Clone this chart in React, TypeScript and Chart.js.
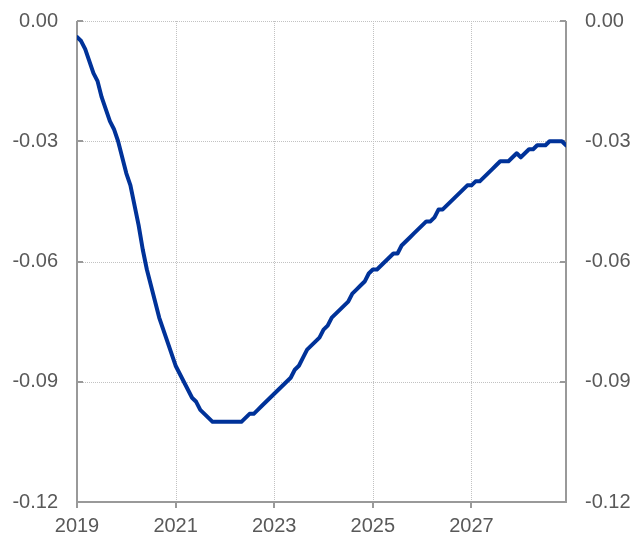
import React, { useEffect, useRef } from "react";
import { Chart, registerables } from "chart.js";

Chart.register(...registerables);

// ---- data ----
const startYear = 2019;
// monthly values, Jan 2019 .. Dec 2028
const values: number[] = [
  -0.004, -0.005, -0.007, -0.010, -0.013, -0.015, -0.019, -0.022, -0.025, -0.027, -0.030, -0.034,
  -0.038, -0.041, -0.046, -0.051, -0.057, -0.062, -0.066, -0.070, -0.074, -0.077, -0.080, -0.083,
  -0.086, -0.088, -0.090, -0.092, -0.094, -0.095, -0.097, -0.098, -0.099, -0.100, -0.100, -0.100,
  -0.100, -0.100, -0.100, -0.100, -0.100, -0.099, -0.098, -0.098, -0.097, -0.096, -0.095, -0.094,
  -0.093, -0.092, -0.091, -0.090, -0.089, -0.087, -0.086, -0.084, -0.082, -0.081, -0.080, -0.079,
  -0.077, -0.076, -0.074, -0.073, -0.072, -0.071, -0.070, -0.068, -0.067, -0.066, -0.065, -0.063,
  -0.062, -0.062, -0.061, -0.060, -0.059, -0.058, -0.058, -0.056, -0.055, -0.054, -0.053, -0.052,
  -0.051, -0.050, -0.050, -0.049, -0.047, -0.047, -0.046, -0.045, -0.044, -0.043, -0.042, -0.041,
  -0.041, -0.040, -0.040, -0.039, -0.038, -0.037, -0.036, -0.035, -0.035, -0.035, -0.034, -0.033,
  -0.034, -0.033, -0.032, -0.032, -0.031, -0.031, -0.031, -0.030, -0.030, -0.030, -0.030, -0.031,
];
const xTicks: number[] = [2019, 2021, 2023, 2025, 2027];
const yTicks: number[] = [0, -0.03, -0.06, -0.09, -0.12];
const yMin = -0.12;
const yMax = 0;

const FONT = "'Liberation Sans', Arial, Helvetica, sans-serif";
const TEXT_COLOR = "#595959";
const GRID_COLOR = "#c2c2c2";
const AXIS_COLOR = "#999999";
const LINE_COLOR = "#003299";

const W = 634;
const H = 535;

const framePlugin = {
  id: "frame",
  beforeDatasetsDraw(chart: any) {
    const { ctx, chartArea, scales } = chart;
    const { left, right, top, bottom } = chartArea;
    const xs = scales.x;
    const ys = scales.y;
    const line = (x1: number, y1: number, x2: number, y2: number) => {
      ctx.beginPath();
      ctx.moveTo(x1, y1);
      ctx.lineTo(x2, y2);
      ctx.stroke();
    };
    ctx.save();
    // dotted grid
    ctx.lineWidth = 1;
    ctx.strokeStyle = GRID_COLOR;
    ctx.setLineDash([1, 1]);
    yTicks.forEach((v) => {
      if (v === yMin) return;
      const py = Math.round(ys.getPixelForValue(v)) + 0.5;
      line(left, py, right, py);
    });
    xTicks.forEach((v, i) => {
      if (i === 0) return;
      const px = Math.round(xs.getPixelForValue(v)) + 0.5;
      line(px, top, px, bottom);
    });
    ctx.setLineDash([]);
    // axes
    ctx.strokeStyle = AXIS_COLOR;
    ctx.lineWidth = 2;
    line(left, top, left, bottom + 1);
    line(right, top, right, bottom + 1);
    line(left - 1, bottom, right + 1, bottom);
    // tick marks
    yTicks.forEach((v) => {
      const py = Math.round(ys.getPixelForValue(v));
      line(left, py, left + 6, py);
      line(right - 6, py, right, py);
    });
    xTicks.forEach((v) => {
      const px = Math.round(xs.getPixelForValue(v));
      line(px, bottom, px, bottom + 6);
    });
    ctx.restore();
  },
};

const noPad = (s: any) => {
  s.paddingTop = 0;
  s.paddingBottom = 0;
  s.paddingLeft = 0;
  s.paddingRight = 0;
};

export default function App() {
  const ref = useRef<HTMLCanvasElement | null>(null);

  useEffect(() => {
    if (!ref.current) return;
    const points = values.map((v, i) => ({ x: startYear + i / 12, y: v }));
    const xMax = startYear + (values.length - 1) / 12;
    const tickFont = { family: FONT, size: 20 };
    const chart = new Chart(ref.current, {
      type: "line",
      data: {
        datasets: [
          {
            data: points,
            borderColor: LINE_COLOR,
            backgroundColor: LINE_COLOR,
            borderWidth: 4,
            pointRadius: 0,
            tension: 0,
            fill: false,
            borderJoinStyle: "round",
            borderCapStyle: "round",
            yAxisID: "y",
          },
        ],
      },
      options: {
        animation: false,
        responsive: false,
        layout: { padding: { top: 21, left: 0, right: 0, bottom: 0 } },
        plugins: { legend: { display: false }, tooltip: { enabled: false } },
        scales: {
          x: {
            type: "linear",
            min: startYear,
            max: xMax,
            grid: { display: false, drawTicks: false },
            border: { display: false },
            afterBuildTicks: (s: any) => {
              s.ticks = xTicks.map((v) => ({ value: v }));
            },
            afterFit: (s: any) => {
              s.height = 33;
              noPad(s);
            },
            ticks: {
              autoSkip: false,
              maxRotation: 0,
              padding: 12,
              color: TEXT_COLOR,
              font: tickFont,
              callback: (v: any) => String(v),
            },
          },
          y: {
            type: "linear",
            position: "left",
            min: yMin,
            max: yMax,
            grid: { display: false, drawTicks: false },
            border: { display: false },
            afterBuildTicks: (s: any) => {
              s.ticks = yTicks.map((v) => ({ value: v }));
            },
            afterFit: (s: any) => {
              s.width = 77;
              noPad(s);
            },
            ticks: {
              padding: 19,
              color: TEXT_COLOR,
              font: tickFont,
              callback: (v: any) => Number(v).toFixed(2),
            },
          },
          y2: {
            type: "linear",
            position: "right",
            min: yMin,
            max: yMax,
            grid: { display: false, drawTicks: false },
            border: { display: false },
            afterBuildTicks: (s: any) => {
              s.ticks = yTicks.map((v) => ({ value: v }));
            },
            afterFit: (s: any) => {
              s.width = 68;
              noPad(s);
            },
            ticks: {
              padding: 19,
              color: TEXT_COLOR,
              font: tickFont,
              callback: (v: any) => Number(v).toFixed(2),
            },
          },
        },
      },
      plugins: [framePlugin],
    } as any);
    return () => chart.destroy();
  }, []);

  return (
    <div style={{ position: "absolute", left: 0, top: 0, width: W, height: H }}>
      <canvas ref={ref} width={W} height={H} style={{ display: "block" }} />
    </div>
  );
}
